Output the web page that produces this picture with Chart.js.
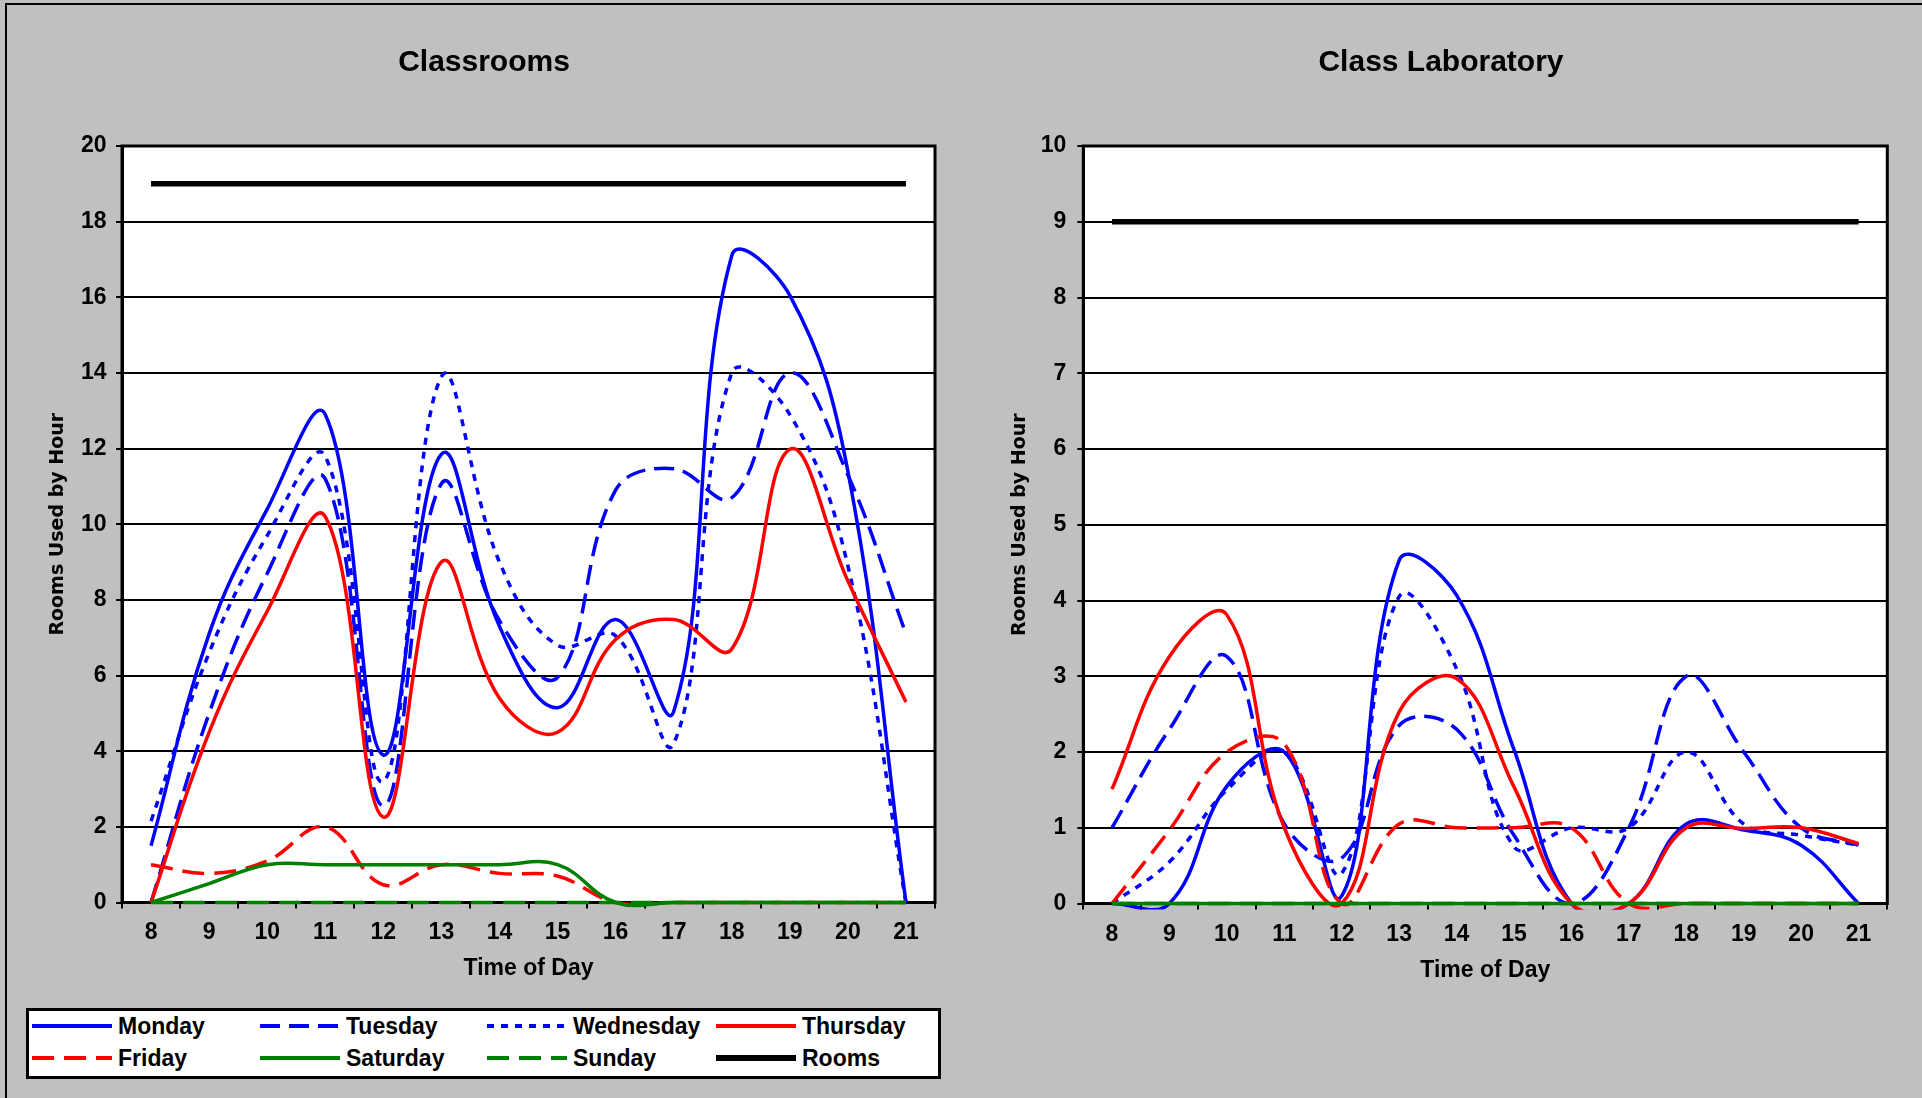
<!DOCTYPE html>
<html>
<head>
<meta charset="utf-8">
<title>Rooms Used by Hour</title>
<script src="https://cdn.jsdelivr.net/npm/chart.js@4.4.1/dist/chart.umd.min.js"></script>
<style>
  html, body { margin: 0; padding: 0; }
  body { width: 1922px; height: 1098px; background: #c0c0c0; position: relative; overflow: hidden; }
  .frame { position: absolute; box-sizing: border-box; border-top: 2px solid #000; border-left: 2px solid #000; }
  canvas { position: absolute; top: 0; }
  #legendBox { position: absolute; left: 26px; top: 1008px; width: 915px; height: 71px; box-sizing: border-box; border: 3px solid #000; background: #fff; }
  .lg-line { position: absolute; }
  .lg-text { position: absolute; font: bold 23px "Liberation Sans", Arial, sans-serif; line-height: 28px; white-space: nowrap; color: #000; }
</style>
</head>
<body>
<div class="frame" style="left:5px;top:3px;width:1930px;height:1100px"></div>
<canvas id="classrooms" width="960" height="990" style="left:0"></canvas>
<canvas id="classLab" width="962" height="990" style="left:960px"></canvas>
<div id="legendBox"></div>
<script>
// hour of day, one category per hour
var hours = ['8', '9', '10', '11', '12', '13', '14', '15', '16', '17', '18', '19', '20', '21'];

// Classrooms
var roomMonday    = [1.5, 7.1, 10.4, 12.9, 3.9, 11.85, 7.3, 5.15, 7.48, 5.05, 17.1, 16.05, 11.4, 0];
var roomTuesday   = [0, 5.0, 8.7, 11.2, 2.55, 11.07, 7.45, 5.95, 10.9, 11.47, 10.7, 14.0, 11.3, 7.1];
var roomWednesday = [2.15, 6.6, 9.7, 11.8, 3.2, 13.9, 9.0, 6.8, 7.05, 4.2, 14.0, 12.9, 8.9, 0];
var roomThursday  = [0, 4.5, 7.7, 10.2, 2.26, 9.0, 5.4, 4.5, 6.95, 7.48, 6.7, 11.98, 8.5, 5.3];
var roomFriday    = [1.0, 0.77, 1.1, 2.0, 0.47, 1.0, 0.77, 0.7, 0, 0, 0, 0, 0, 0];
var roomSaturday  = [0, 0.5, 1.0, 1.0, 1.0, 1.0, 1.0, 1.0, 0, 0, 0, 0, 0, 0];
var roomSunday    = [0, 0, 0, 0, 0, 0, 0, 0, 0, 0, 0, 0, 0, 0];
var roomTotal     = [19, 19, 19, 19, 19, 19, 19, 19, 19, 19, 19, 19, 19, 19];

// Class Laboratory
var labMonday    = [0, 0, 1.55, 2.0, 0.1, 4.53, 4.07, 2.03, 0, 0, 1.05, 0.97, 0.77, 0];
var labTuesday   = [1.0, 2.3, 3.26, 1.05, 0.6, 2.35, 2.3, 0.9, 0, 1.0, 3.0, 2.0, 1.0, 0.77];
var labWednesday = [0, 0.55, 1.5, 2.0, 0.4, 4.05, 3.1, 0.75, 1.0, 1.0, 2.0, 1.05, 0.9, 0.77];
var labThursday  = [1.51, 3.26, 3.81, 1.0, 0, 2.53, 2.97, 1.54, 0, 0, 1.0, 0.99, 1.0, 0.79];
var labFriday    = [0, 0.97, 2.0, 2.11, 0, 1.05, 1.0, 1.0, 1.0, 0, 0, 0, 0, 0];
var labSaturday  = [0, 0, 0, 0, 0, 0, 0, 0, 0, 0, 0, 0, 0, 0];
var labSunday    = [0, 0, 0, 0, 0, 0, 0, 0, 0, 0, 0, 0, 0, 0];
var labTotal     = [9, 9, 9, 9, 9, 9, 9, 9, 9, 9, 9, 9, 9, 9];

var seriesNames = ['Monday', 'Tuesday', 'Wednesday', 'Thursday', 'Friday', 'Saturday', 'Sunday', 'Rooms'];
var lineColors  = ['#0000ff', '#0000ff', '#0000ff', '#ff0000', '#ff0000', '#008000', '#008000', '#000000'];
var lineDashes  = [[], [20, 9], [7, 7], [], [22, 10], [], [22, 10], []];
var lineWidths  = [3.5, 3.5, 3.5, 3.5, 3.5, 3.5, 3.5, 5.5];

var tickFont = { family: 'Liberation Sans', size: 23, weight: 'bold' };

function makeDatasets(series) {
  return series.map(function (values, i) {
    return {
      label: seriesNames[i],
      data: values,
      borderColor: lineColors[i],
      backgroundColor: lineColors[i],
      borderWidth: lineWidths[i],
      borderDash: lineDashes[i],
      borderCapStyle: 'butt',
      pointRadius: 0,
      tension: 0.4,
      fill: false,
      clip: 6,
      // excel draws later series on top
      order: series.length - i
    };
  });
}

// white plot area and a frame round it
var plotFrame = {
  id: 'plotFrame',
  beforeDraw: function (chart) {
    var a = chart.chartArea, ctx = chart.ctx;
    ctx.save();
    ctx.fillStyle = '#ffffff';
    ctx.fillRect(a.left, a.top, a.right - a.left, a.bottom - a.top);
    ctx.restore();
  },
  beforeDatasetsDraw: function (chart) {
    var a = chart.chartArea, ctx = chart.ctx;
    ctx.save();
    ctx.strokeStyle = '#000';
    ctx.lineWidth = 3;
    ctx.strokeRect(a.left, a.top, a.right - a.left, a.bottom - a.top);
    ctx.restore();
  }
};

function makeOptions(cfg) {
  return {
    responsive: false,
    animation: false,
    devicePixelRatio: 1,
    layout: { padding: { left: cfg.padLeft, right: cfg.padRight, top: 0, bottom: cfg.padBottom } },
    elements: { line: { capBezierPoints: false } },
    plugins: {
      legend: { display: false },
      tooltip: { enabled: false },
      title: {
        display: true,
        text: cfg.title,
        color: '#000',
        font: { family: 'Liberation Sans', size: 30, weight: 'bold', lineHeight: 1.2 },
        padding: { top: 44.5, bottom: 65.5 }
      }
    },
    scales: {
      x: {
        type: 'category',
        offset: true,
        grid: { display: true, offset: true, drawOnChartArea: false, drawTicks: true, tickLength: 6, color: '#000', lineWidth: 2 },
        border: { display: true, color: '#000', width: 3 },
        ticks: { color: '#000', font: tickFont, padding: cfg.xTickPad, maxRotation: 0, autoSkip: false },
        title: { display: true, text: 'Time of Day', color: '#000', font: { family: 'Liberation Sans', size: 23, weight: 'bold', lineHeight: 1.2 }, padding: { top: 0, bottom: 0 } },
        afterFit: function (s) { s.height = cfg.xHeight; }
      },
      y: {
        min: 0,
        max: cfg.max,
        ticks: { stepSize: cfg.step, color: '#000', font: tickFont, padding: cfg.yTickPad },
        grid: { color: '#000', lineWidth: 2, tickLength: 6 },
        border: { display: true, color: '#000', width: 3 },
        title: { display: true, text: 'Rooms Used by Hour', color: '#000', font: { family: 'DejaVu Sans', size: 19, weight: 'bold', lineHeight: 1.2 }, padding: { top: cfg.yTitlePad, bottom: 0 } },
        afterFit: function (s) { s.width = cfg.yWidth; }
      }
    }
  };
}

new Chart(document.getElementById('classrooms').getContext('2d'), {
  type: 'line',
  data: {
    labels: hours,
    datasets: makeDatasets([roomMonday, roomTuesday, roomWednesday, roomThursday, roomFriday, roomSaturday, roomSunday, roomTotal])
  },
  options: makeOptions({
    title: 'Classrooms', max: 20, step: 2,
    padLeft: 33, padRight: 25, padBottom: 7.9,
    yWidth: 89, yTickPad: 9.5, yTitlePad: 14.1,
    xHeight: 79.6, xTickPad: 10.2
  }),
  plugins: [plotFrame]
});

new Chart(document.getElementById('classLab').getContext('2d'), {
  type: 'line',
  data: {
    labels: hours,
    datasets: makeDatasets([labMonday, labTuesday, labWednesday, labThursday, labFriday, labSaturday, labSunday, labTotal])
  },
  options: makeOptions({
    title: 'Class Laboratory', max: 10, step: 1,
    padLeft: 34.7, padRight: 34.7, padBottom: 6,
    yWidth: 88.6, yTickPad: 11, yTitlePad: 14.3,
    xHeight: 80.5, xTickPad: 11.5
  }),
  plugins: [plotFrame]
});

// legend, 4 columns x 2 rows, under the left chart
var legendCols = [32, 260, 487, 716];
var legendRows = [1025.6, 1057.6];
seriesNames.forEach(function (name, i) {
  var x = legendCols[i % 4], y = legendRows[Math.floor(i / 4)];
  var svg = '<svg class="lg-line" width="80" height="10" style="left:' + x + 'px;top:' + (y - 5) + 'px">' +
    '<line x1="0" y1="5" x2="80" y2="5" stroke="' + lineColors[i] + '" stroke-width="' + (lineWidths[i] + 0.5) + '"' +
    (lineDashes[i].length ? ' stroke-dasharray="' + lineDashes[i].join(' ') + '"' : '') + '/></svg>';
  var text = '<div class="lg-text" style="left:' + (x + 86) + 'px;top:' + (y - 14) + 'px">' + name + '</div>';
  document.body.insertAdjacentHTML('beforeend', svg + text);
});
</script>
</body>
</html>
